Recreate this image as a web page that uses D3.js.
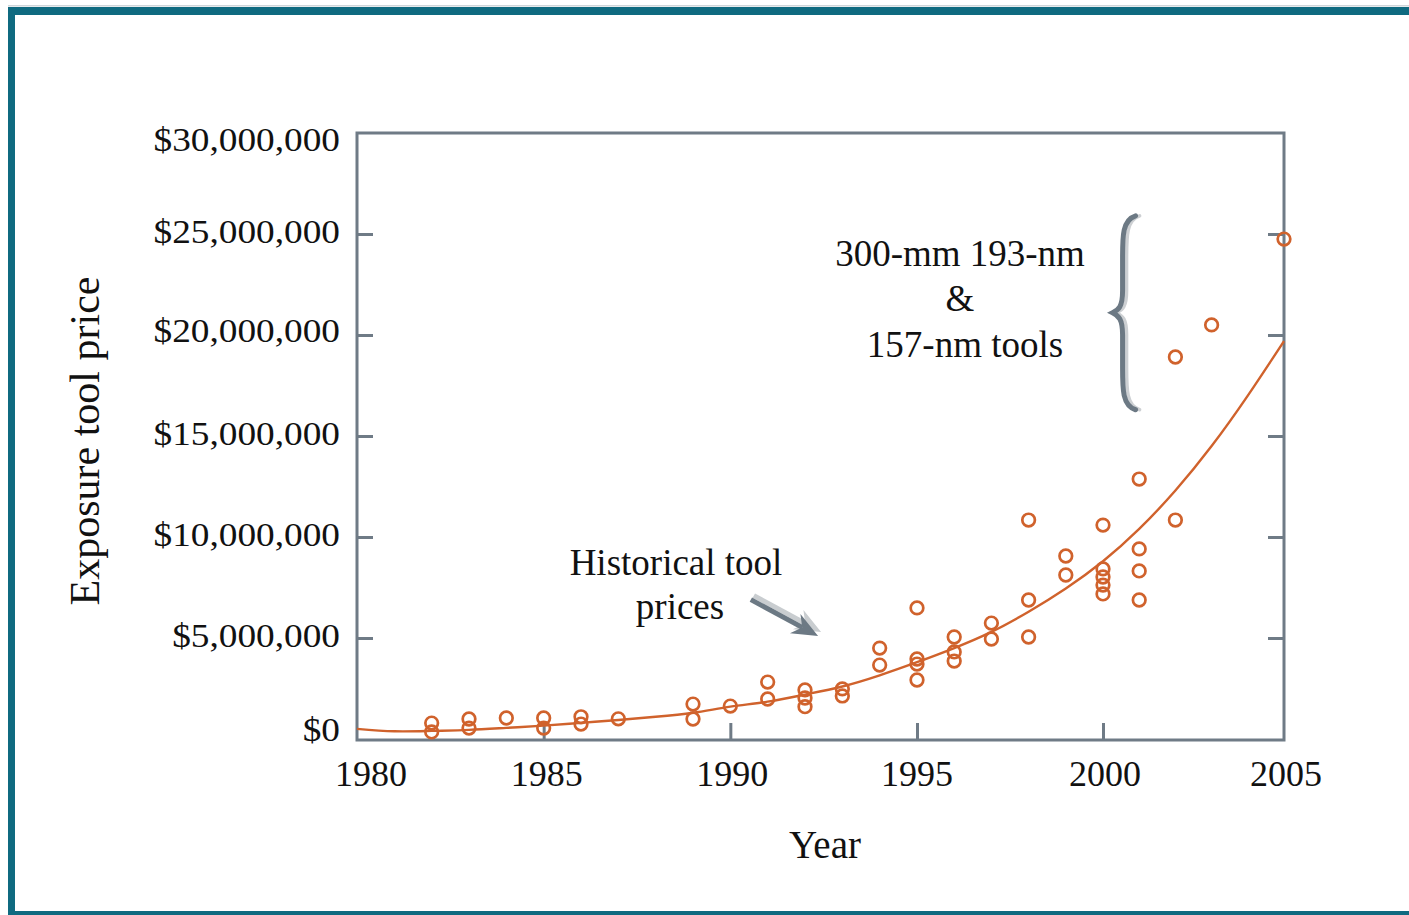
<!DOCTYPE html>
<html>
<head>
<meta charset="utf-8">
<script src="https://cdn.jsdelivr.net/npm/d3@7"></script>
<style>
  html, body { margin: 0; padding: 0; background: #fff; }
  svg { display: block; }
  text { font-family: "Liberation Serif", "Times New Roman", serif; fill: #111; }
</style>
</head>
<body>
<svg id="chart" width="1409" height="915"></svg>
<script>
// observed tool prices (year, dollars)
const pointYears = [1982, 1982, 1983, 1983, 1984, 1985, 1985, 1986, 1986, 1987,
  1989, 1989, 1990, 1991, 1991, 1992, 1992, 1992, 1993, 1993,
  1994, 1994, 1995, 1995, 1995, 1995, 1996, 1996, 1996, 1997, 1997,
  1998, 1998, 1998, 1999, 1999, 2000, 2000, 2000, 2000, 2000,
  2001, 2001, 2001, 2001, 2002, 2002, 2003, 2005];
const pointPrices = [790000, 350000, 990000, 540000, 1040000, 1040000, 540000, 1100000, 740000, 1000000,
  1730000, 990000, 1630000, 2820000, 1980000, 2430000, 2030000, 1600000, 2480000, 2130000,
  4500000, 3660000, 6490000, 3960000, 3710000, 2920000, 5050000, 4310000, 3860000, 5740000, 4950000,
  10840000, 6880000, 5050000, 9060000, 8120000, 10590000, 8420000, 8020000, 7620000, 7180000,
  12870000, 9410000, 8320000, 6880000, 18910000, 10840000, 20500000, 24750000];

// fitted trend curve
const trendYears = [1980, 1981, 1982, 1983, 1984, 1985, 1986, 1987, 1988, 1989, 1990, 1991, 1992,
  1993, 1994, 1995, 1996, 1997, 1998, 1999, 2000, 2001, 2002, 2003, 2004, 2005];
const trendPrices = [500000, 380000, 400000, 450000, 550000, 660000, 800000, 940000, 1100000, 1300000,
  1600000, 1850000, 2200000, 2600000, 3150000, 3800000, 4500000, 5300000, 6300000, 7450000,
  8800000, 10400000, 12300000, 14500000, 17000000, 19700000];

const yTicks = [0, 5000000, 10000000, 15000000, 20000000, 25000000, 30000000];
const xTicks = [1980, 1985, 1990, 1995, 2000, 2005];

const svg = d3.select("#chart");
const teal = "#0f6a80";
const axisGray = "#6f7b86";
const orange = "#d0622c";

// the printed axis is very slightly uneven, so use a piecewise scale
const x = d3.scaleLinear().domain([1980, 1995, 2000, 2005]).range([357, 917, 1103, 1284]);
const y = d3.scaleLinear().domain([0, 30000000]).range([739, 133]);

// page frame
svg.append("rect").attr("x", 8).attr("y", 5).attr("width", 1401).attr("height", 1.5).attr("fill", "#cfd6da");
svg.append("rect").attr("x", 8).attr("y", 7).attr("width", 1401).attr("height", 8).attr("fill", teal);
svg.append("rect").attr("x", 8).attr("y", 7).attr("width", 7).attr("height", 908).attr("fill", teal);
svg.append("rect").attr("x", 8).attr("y", 911).attr("width", 1401).attr("height", 4).attr("fill", teal);

// plot box
svg.append("rect")
  .attr("x", x(1980)).attr("y", y(30000000))
  .attr("width", x(2005) - x(1980)).attr("height", 740 - y(30000000))
  .attr("fill", "none").attr("stroke", axisGray).attr("stroke-width", 3);

const inner = yTicks.slice(1, -1);
svg.append("g").attr("transform", `translate(${x(1980)},0)`)
  .call(d3.axisRight(y).tickValues(inner).tickSize(16).tickFormat(""));
svg.append("g").attr("transform", `translate(${x(2005)},0)`)
  .call(d3.axisLeft(y).tickValues(inner).tickSize(16).tickFormat(""));
svg.append("g").attr("transform", "translate(0,740)")
  .call(d3.axisTop(x).tickValues(xTicks.slice(1, -1)).tickSize(17).tickFormat(""));
svg.selectAll(".domain").remove();
svg.selectAll(".tick line").attr("stroke", axisGray).attr("stroke-width", 3);

// y labels (the face is wider than Liberation Serif, so stretch it)
const fmt = d => "$" + d3.format(",")(d);
const yShift = { 0: -10, 20000000: -5, 30000000: 6 };
svg.append("g").selectAll("text")
  .data(yTicks).join("text")
  .attr("x", 340)
  .attr("y", d => y(d) + (d in yShift ? yShift[d] : -3))
  .attr("dy", "0.35em")
  .attr("text-anchor", "end")
  .attr("font-size", 33)
  .text(fmt)
  .each(function() {
    const w = this.getComputedTextLength();
    d3.select(this).attr("textLength", w * 1.13).attr("lengthAdjust", "spacingAndGlyphs");
  });

// x labels
const xShift = { 1980: 14, 1985: 3, 1990: 2, 2000: 2, 2005: 2 };
svg.append("g").selectAll("text")
  .data(xTicks).join("text")
  .attr("x", d => x(d) + (xShift[d] || 0))
  .attr("y", 786)
  .attr("text-anchor", "middle")
  .attr("font-size", 36)
  .text(d => d);

// axis titles
svg.append("text")
  .attr("x", 825).attr("y", 858)
  .attr("text-anchor", "middle").attr("font-size", 39)
  .text("Year");
svg.append("text")
  .attr("transform", "translate(99,441) rotate(-90)")
  .attr("text-anchor", "middle").attr("font-size", 42)
  .text("Exposure tool price");

// trend curve
const line = d3.line()
  .x(d => x(d[0]))
  .y(d => y(d[1]))
  .curve(d3.curveNatural);
svg.append("path")
  .datum(d3.zip(trendYears, trendPrices))
  .attr("d", line)
  .attr("fill", "none")
  .attr("stroke", orange)
  .attr("stroke-width", 2.4);

// data points
svg.append("g").selectAll("circle")
  .data(d3.zip(pointYears, pointPrices))
  .join("circle")
  .attr("cx", d => x(d[0]))
  .attr("cy", d => y(d[1]))
  .attr("r", 6.3)
  .attr("fill", "none")
  .attr("stroke", orange)
  .attr("stroke-width", 2.7);

// annotation: historical prices + arrow
const ann = svg.append("g");
ann.append("text").attr("x", 676).attr("y", 575).attr("text-anchor", "middle")
  .attr("font-size", 37).text("Historical tool");
ann.append("text").attr("x", 680).attr("y", 619).attr("text-anchor", "middle")
  .attr("font-size", 37).text("prices");

function arrow(g, x0, y0, x1, y1, color) {
  const a = Math.atan2(y1 - y0, x1 - x0);
  const len = 26, half = 11, notch = 8;
  const bx = x1 - len * Math.cos(a), by = y1 - len * Math.sin(a);
  const nx = -Math.sin(a), ny = Math.cos(a);
  const mx = x1 - (len - notch) * Math.cos(a), my = y1 - (len - notch) * Math.sin(a);
  g.append("line").attr("x1", x0).attr("y1", y0).attr("x2", mx).attr("y2", my)
    .attr("stroke", color).attr("stroke-width", 5);
  g.append("path")
    .attr("d", `M${x1},${y1} L${bx + nx * half},${by + ny * half} L${mx},${my} L${bx - nx * half},${by - ny * half} Z`)
    .attr("fill", color);
}
const ax0 = x(1990.55), ay0 = y(6900000), ax1 = x(1992.35), ay1 = y(5100000);
arrow(ann, ax0 + 3, ay0 - 4, ax1 + 3, ay1 - 4, "#c9cdd0");
arrow(ann, ax0, ay0, ax1, ay1, "#6c7984");

// annotation: 300-mm tools + brace
ann.append("text").attr("x", 960).attr("y", 266).attr("text-anchor", "middle")
  .attr("font-size", 37).text("300-mm 193-nm");
ann.append("text").attr("x", 960).attr("y", 311).attr("text-anchor", "middle")
  .attr("font-size", 37).text("&");
ann.append("text").attr("x", 965).attr("y", 357).attr("text-anchor", "middle")
  .attr("font-size", 37).text("157-nm tools");

const bx = x(2000.9), btop = y(25900000), bbot = y(16300000), bmid = (btop + bbot) / 2;
function brace(dx, color, w) {
  const p = d3.path();
  p.moveTo(bx + dx, btop);
  p.bezierCurveTo(bx - 13 + dx, btop + 4, bx - 13 + dx, btop + 20, bx - 13 + dx, btop + 42);
  p.lineTo(bx - 13 + dx, bmid - 22);
  p.bezierCurveTo(bx - 13 + dx, bmid - 6, bx - 17 + dx, bmid - 3, bx - 23 + dx, bmid);
  p.bezierCurveTo(bx - 17 + dx, bmid + 3, bx - 13 + dx, bmid + 6, bx - 13 + dx, bmid + 22);
  p.lineTo(bx - 13 + dx, bbot - 42);
  p.bezierCurveTo(bx - 13 + dx, bbot - 20, bx - 13 + dx, bbot - 4, bx + dx, bbot);
  ann.append("path").attr("d", p.toString()).attr("fill", "none")
    .attr("stroke", color).attr("stroke-width", w).attr("stroke-linecap", "round");
}
brace(4, "#cdd0d3", 3.5);
brace(0, "#6c7984", 5);
</script>
</body>
</html>
